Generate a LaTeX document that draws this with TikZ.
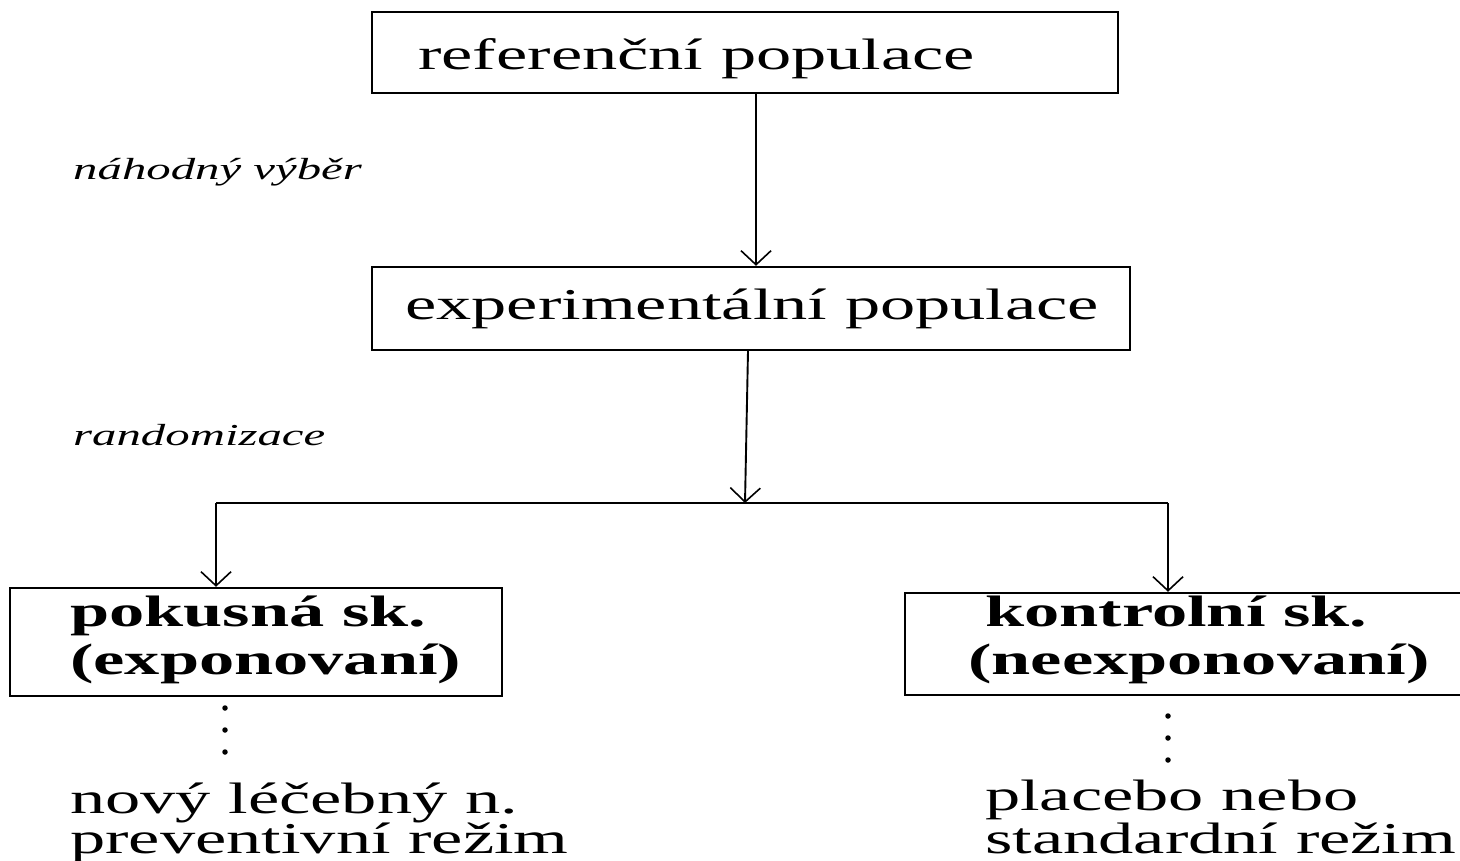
\documentclass[tikz,border=0pt]{standalone}
\usepackage{fontspec}
\setmainfont[FakeStretch=1.6]{Liberation Serif}
\usetikzlibrary{arrows.meta}
\begin{document}
\begin{tikzpicture}[x=1pt,y=-1pt,
  box/.style={draw, line width=2.4pt, inner sep=0pt},
  link/.style={line width=1.9pt},
  conn/.style={link, -{Straight Barb[length=14pt,width=30pt,line width=1.6pt]}},
  big/.style={font=\fontsize{44}{52}\selectfont, inner sep=0pt, anchor=base west},
  bigb/.style={big, font=\fontsize{44}{52}\selectfont\bfseries},
  lab/.style={font=\fontsize{30.5}{36}\selectfont\itshape, inner sep=0pt, anchor=base west},
  dots/.style={line width=5.5pt, line cap=round, dash pattern=on 0pt off 22pt}]
\useasboundingbox (0,0) rectangle (1460,860);
\clip (0,0) rectangle (1460,860);
\fill[white] (0,0) rectangle (1460,860);
% boxes
\node[box, minimum width=746pt, minimum height=81pt] (b1) at (745,52.5) {};
\node[box, minimum width=758pt, minimum height=83pt] (b2) at (751,308.5) {};
\node[box, minimum width=492pt, minimum height=108pt] (b3) at (256,642) {};
\node[box, minimum width=700pt, minimum height=102pt] (b4) at (1255,644) {};
% texts
\node[big] (t1) at (418,69) {referenční populace};
\node[big] (t2) at (405,319) {experimentální populace};
\node[bigb] (t3a) at (70,626) {pokusná sk.};
\node[bigb] (t3b) at (70,674) {(exponovaní)};
\node[bigb] (t4a) at (985,626) {kontrolní sk.};
\node[bigb] (t4b) at (968,674) {(neexponovaní)};
\node[big] (t5a) at (70,813) {nový léčebný n.};
\node[big] (t5b) at (70,853) {preventivní režim};
\node[big] (t6a) at (985,810) {placebo nebo};
\node[big] (t6b) at (985,853) {standardní režim};
\node[lab] (l1) at (73,179) {náhodný výběr};
\node[lab] (l2) at (73,445) {randomizace};
% connectors
\coordinate (jc) at (745,503);
\coordinate (jl) at (216,503);
\coordinate (jr) at (1168,503);
\draw[conn] ([xshift=11pt]b1.south) -- ([xshift=5pt]b2.north);
\draw[conn] ([xshift=-3pt]b2.south) -- (jc);
\draw[link] (jl) -- (jr);
\draw[conn] (jl) -- (jl |- b3.north);
\draw[conn] (jr) -- (jr |- b4.north);
% dotted links
\coordinate (d3a) at (225,708);
\coordinate (d3b) at (225,754);
\coordinate (d4a) at (1168,716);
\coordinate (d4b) at (1168,760);
\draw[dots] (d3a) -- (d3b);
\draw[dots] (d4a) -- (d4b);
\end{tikzpicture}
\end{document}
